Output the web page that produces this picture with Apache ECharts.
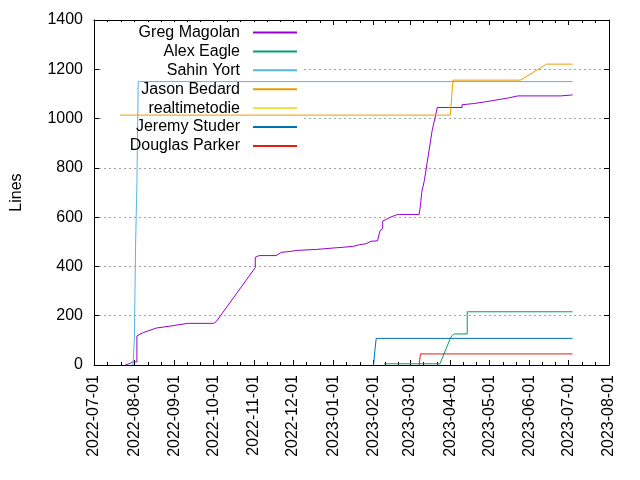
<!DOCTYPE html>
<html><head><meta charset="utf-8">
<script src="https://cdn.jsdelivr.net/npm/echarts@6/dist/echarts.min.js"></script>
<style>html,body{margin:0;padding:0;background:#fff}#c{width:640px;height:480px}</style>
</head><body><div id="c"></div>
<script>
const seriesNames = ['Greg Magolan','Alex Eagle','Sahin Yort','Jason Bedard','realtimetodie','Jeremy Studer','Douglas Parker'];
const seriesColors = ['#9400d3','#009e73','#56b4e9','#e69f00','#f0e442','#0072b2','#e51e10'];

const gregMagolan = [['2022-07-25',0],['2022-07-29',7],['2022-07-31',13],['2022-08-03',13],['2022-08-03',118],['2022-08-08',132],['2022-08-18',150],['2022-08-30',159],['2022-09-11',169],['2022-10-01',169],['2022-10-03',176],['2022-11-02',395],['2022-11-02',437],['2022-11-05',444],['2022-11-18',444],['2022-11-18',452],['2022-11-22',457],['2022-11-29',461],['2022-12-04',465],['2022-12-19',469],['2023-01-04',476],['2023-01-16',481],['2023-01-21',488],['2023-01-26',492],['2023-01-30',502],['2023-02-04',504],['2023-02-05',512],['2023-02-06',546],['2023-02-08',553],['2023-02-08',584],['2023-02-11',592],['2023-02-14',600],['2023-02-18',608],['2023-02-20',611],['2023-03-08',611],['2023-03-09',647],['2023-03-10',701],['2023-03-12',748],['2023-03-18',951],['2023-03-22',1045],['2023-04-10',1045],['2023-04-10',1056],['2023-04-19',1061],['2023-04-28',1068],['2023-05-06',1075],['2023-05-15',1083],['2023-05-23',1092],['2023-06-25',1092],['2023-06-25',1096],['2023-07-04',1096]];
const alexEagle = [['2023-02-09',5],['2023-03-24',5],['2023-04-01',108],['2023-04-02',118],['2023-04-04',126],['2023-04-14',126],['2023-04-14',216],['2023-07-04',216]];
const sahinYort = [['2022-07-31',0],['2022-08-01',100],['2022-08-02',495],['2022-08-03',738],['2022-08-04',1150],['2023-07-04',1150]];
const jasonBedard = [['2022-07-21',1014],['2023-04-01',1014],['2023-04-02',1086],['2023-04-03',1156],['2023-05-25',1156],['2023-06-14',1221],['2023-07-04',1221]];
const realtimetodie = [];
const jeremyStuder = [['2023-02-01',0],['2023-02-02',60],['2023-02-03',108],['2023-07-04',108]];
const douglasParker = [['2023-03-08',0],['2023-03-09',45],['2023-07-04',45]];
const seriesData = [gregMagolan, alexEagle, sahinYort, jasonBedard, realtimetodie, jeremyStuder, douglasParker];

const monthTickLabels = ['2022-07-01','2022-08-01','2022-09-01','2022-10-01','2022-11-01','2022-12-01','2023-01-01','2023-02-01','2023-03-01','2023-04-01','2023-05-01','2023-06-01','2023-07-01','2023-08-01'];
const yTicks = [0,200,400,600,800,1000,1200,1400];

const FONT = "'Liberation Sans', Arial, sans-serif";
function ts(s){const p=s.split('-').map(Number);return Date.UTC(p[0],p[1]-1,p[2]);}
function pad(n){return (n<10?'0':'')+n;}
function fmt(v){const d=new Date(v);return d.getUTCFullYear()+'-'+pad(d.getUTCMonth()+1)+'-'+pad(d.getUTCDate());}
const monthTs = monthTickLabels.map(ts);
const minorTs = [];
for(let i=0;i<monthTs.length-1;i++){const a=monthTs[i],b=monthTs[i+1];minorTs.push(a+(b-a)/3,a+2*(b-a)/3);}
const xMin = monthTs[0], xMax = monthTs[monthTs.length-1];

function xAx(pos, major){
  return {type:'value', min:xMin, max:xMax, position:pos, scale:true,
    axisLine:{show:major, onZero:false, lineStyle:{color:'#000',width:1}},
    axisTick:{show:true, inside:true, length:major?5:3, customValues:major?monthTs:minorTs, lineStyle:{color:'#000'}},
    axisLabel:(major&&pos==='bottom')?{show:true, customValues:monthTs, rotate:90, formatter:fmt, fontSize:16, color:'#000', fontFamily:FONT, margin:10}:{show:false, customValues:major?monthTs:minorTs},
    splitLine:{show:false}};
}
const chart = echarts.init(document.getElementById('c'), null, {renderer:'canvas'});
chart.setOption({
  animation:false,
  backgroundColor:'#fff',
  grid:{left:94, right:31, top:20, bottom:115, containLabel:false},
  xAxis:[xAx('bottom',true), xAx('bottom',false), xAx('top',true), xAx('top',false)],
  yAxis:[
    {type:'value', min:yTicks[0], max:yTicks[yTicks.length-1], interval:200, position:'left',
     name:'Lines', nameLocation:'middle', nameGap:69, nameTextStyle:{fontSize:16, color:'#000', fontFamily:FONT},
     axisLine:{show:true, onZero:false, lineStyle:{color:'#000'}},
     axisTick:{inside:true, length:5, lineStyle:{color:'#000'}},
     axisLabel:{fontSize:16, color:'#000', fontFamily:FONT, margin:11, formatter:v=>String(v)},
     splitLine:{show:true, showMinLine:false, showMaxLine:false, lineStyle:{color:'#a0a0a0', type:[2,3], width:1}}},
    {type:'value', min:yTicks[0], max:yTicks[yTicks.length-1], interval:200, position:'right',
     axisLine:{show:true, onZero:false, lineStyle:{color:'#000'}},
     axisTick:{inside:true, length:5, lineStyle:{color:'#000'}},
     axisLabel:{show:false}, splitLine:{show:false}}
  ],
  legend: seriesNames.map((n,i)=>({
    data:[n], orient:'vertical', align:'right', right:342, top:24.5+i*18.9, padding:0,
    itemWidth:44, itemHeight:1, selectedMode:false,
    textStyle:{fontSize:16, color:'#000', fontFamily:FONT, padding:[0,8,0,0]}
  })),
  graphic:[{type:'rect', shape:{x:104, y:22, width:200, height:134}, style:{fill:'#fff'}, z:1, silent:true}],
  series: seriesNames.map((n,i)=>({
    name:n, type:'line', data:seriesData[i].map(d=>[ts(d[0]), d[1]]), xAxisIndex:0, yAxisIndex:0,
    symbol:'none', showSymbol:false, color:seriesColors[i], legendIcon:'rect',
    lineStyle:{width:1, color:seriesColors[i]}, z:3
  }))
});
</script></body></html>
